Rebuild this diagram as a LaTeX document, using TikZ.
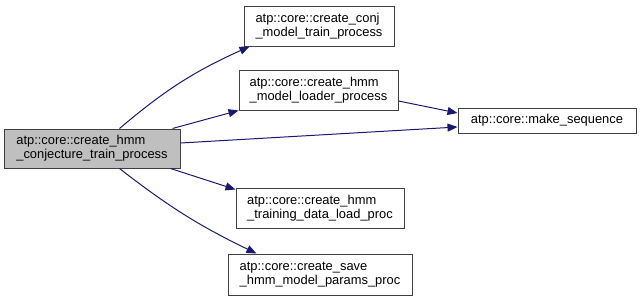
\documentclass[tikz,border=0pt]{standalone}
\usepackage{fontspec}
\setmainfont{Liberation Sans}
\usetikzlibrary{arrows.meta,calc}
\definecolor{edgeblue}{HTML}{191970}
\definecolor{boxgray}{HTML}{BFBFBF}
\definecolor{boxline}{HTML}{404040}
\begin{document}
\begin{tikzpicture}[x=1pt,y=-1pt,
  fn/.style={draw=boxline, line width=1pt, fill=white, align=left, inner sep=0pt,
    font=\fontsize{12.9}{14}\selectfont, text=black},
  callee/.style={fn},
  caller/.style={fn, fill=boxgray},
  call/.style={draw=edgeblue, line width=1pt,
    -{Triangle[length=10pt,width=8pt]}, edgeblue}]
\useasboundingbox (0,0) rectangle (640,300);

% functions
\node[caller, minimum width=176pt, minimum height=39pt] (main) at (92,148.5)
  {atp::core::create\_hmm\\\_conjecture\_train\_process};
\node[callee, minimum width=150pt, minimum height=40pt] (conj) at (319,26)
  {atp::core::create\_conj\\\_model\_train\_process};
\node[callee, minimum width=159pt, minimum height=40pt] (loader) at (318.5,90)
  {atp::core::create\_hmm\\\_model\_loader\_process};
\node[callee, minimum width=178pt, minimum height=25pt] (mkseq) at (547,120.5)
  {atp::core::make\_sequence};
\node[callee, minimum width=168pt, minimum height=40pt] (train) at (320,208)
  {atp::core::create\_hmm\\\_training\_data\_load\_proc};
\node[callee, minimum width=184pt, minimum height=41pt] (save) at (320,274.5)
  {atp::core::create\_save\\\_hmm\_model\_params\_proc};

% calls
\draw[call] ($(main.north west)+(116,0)$) to[bend left=8] ($(conj.south west)+(6,0)$);
\draw[call] ($(main.north east)+(-8,0)$) -- (loader.south west);
\draw[call] ($(main.east)+(0,-5.5)$) -- ($(mkseq.west)+(0,6.5)$);
\draw[call] ($(loader.east)+(0,11)$) -- ($(mkseq.west)+(0,-7.5)$);
\draw[call] ($(main.south east)+(-10,0)$) -- ($(train.north west)+(0,2)$);
\draw[call] ($(main.south west)+(116,0)$) to[bend right=6] ($(save.north west)+(29,0)$);
\end{tikzpicture}
\end{document}
